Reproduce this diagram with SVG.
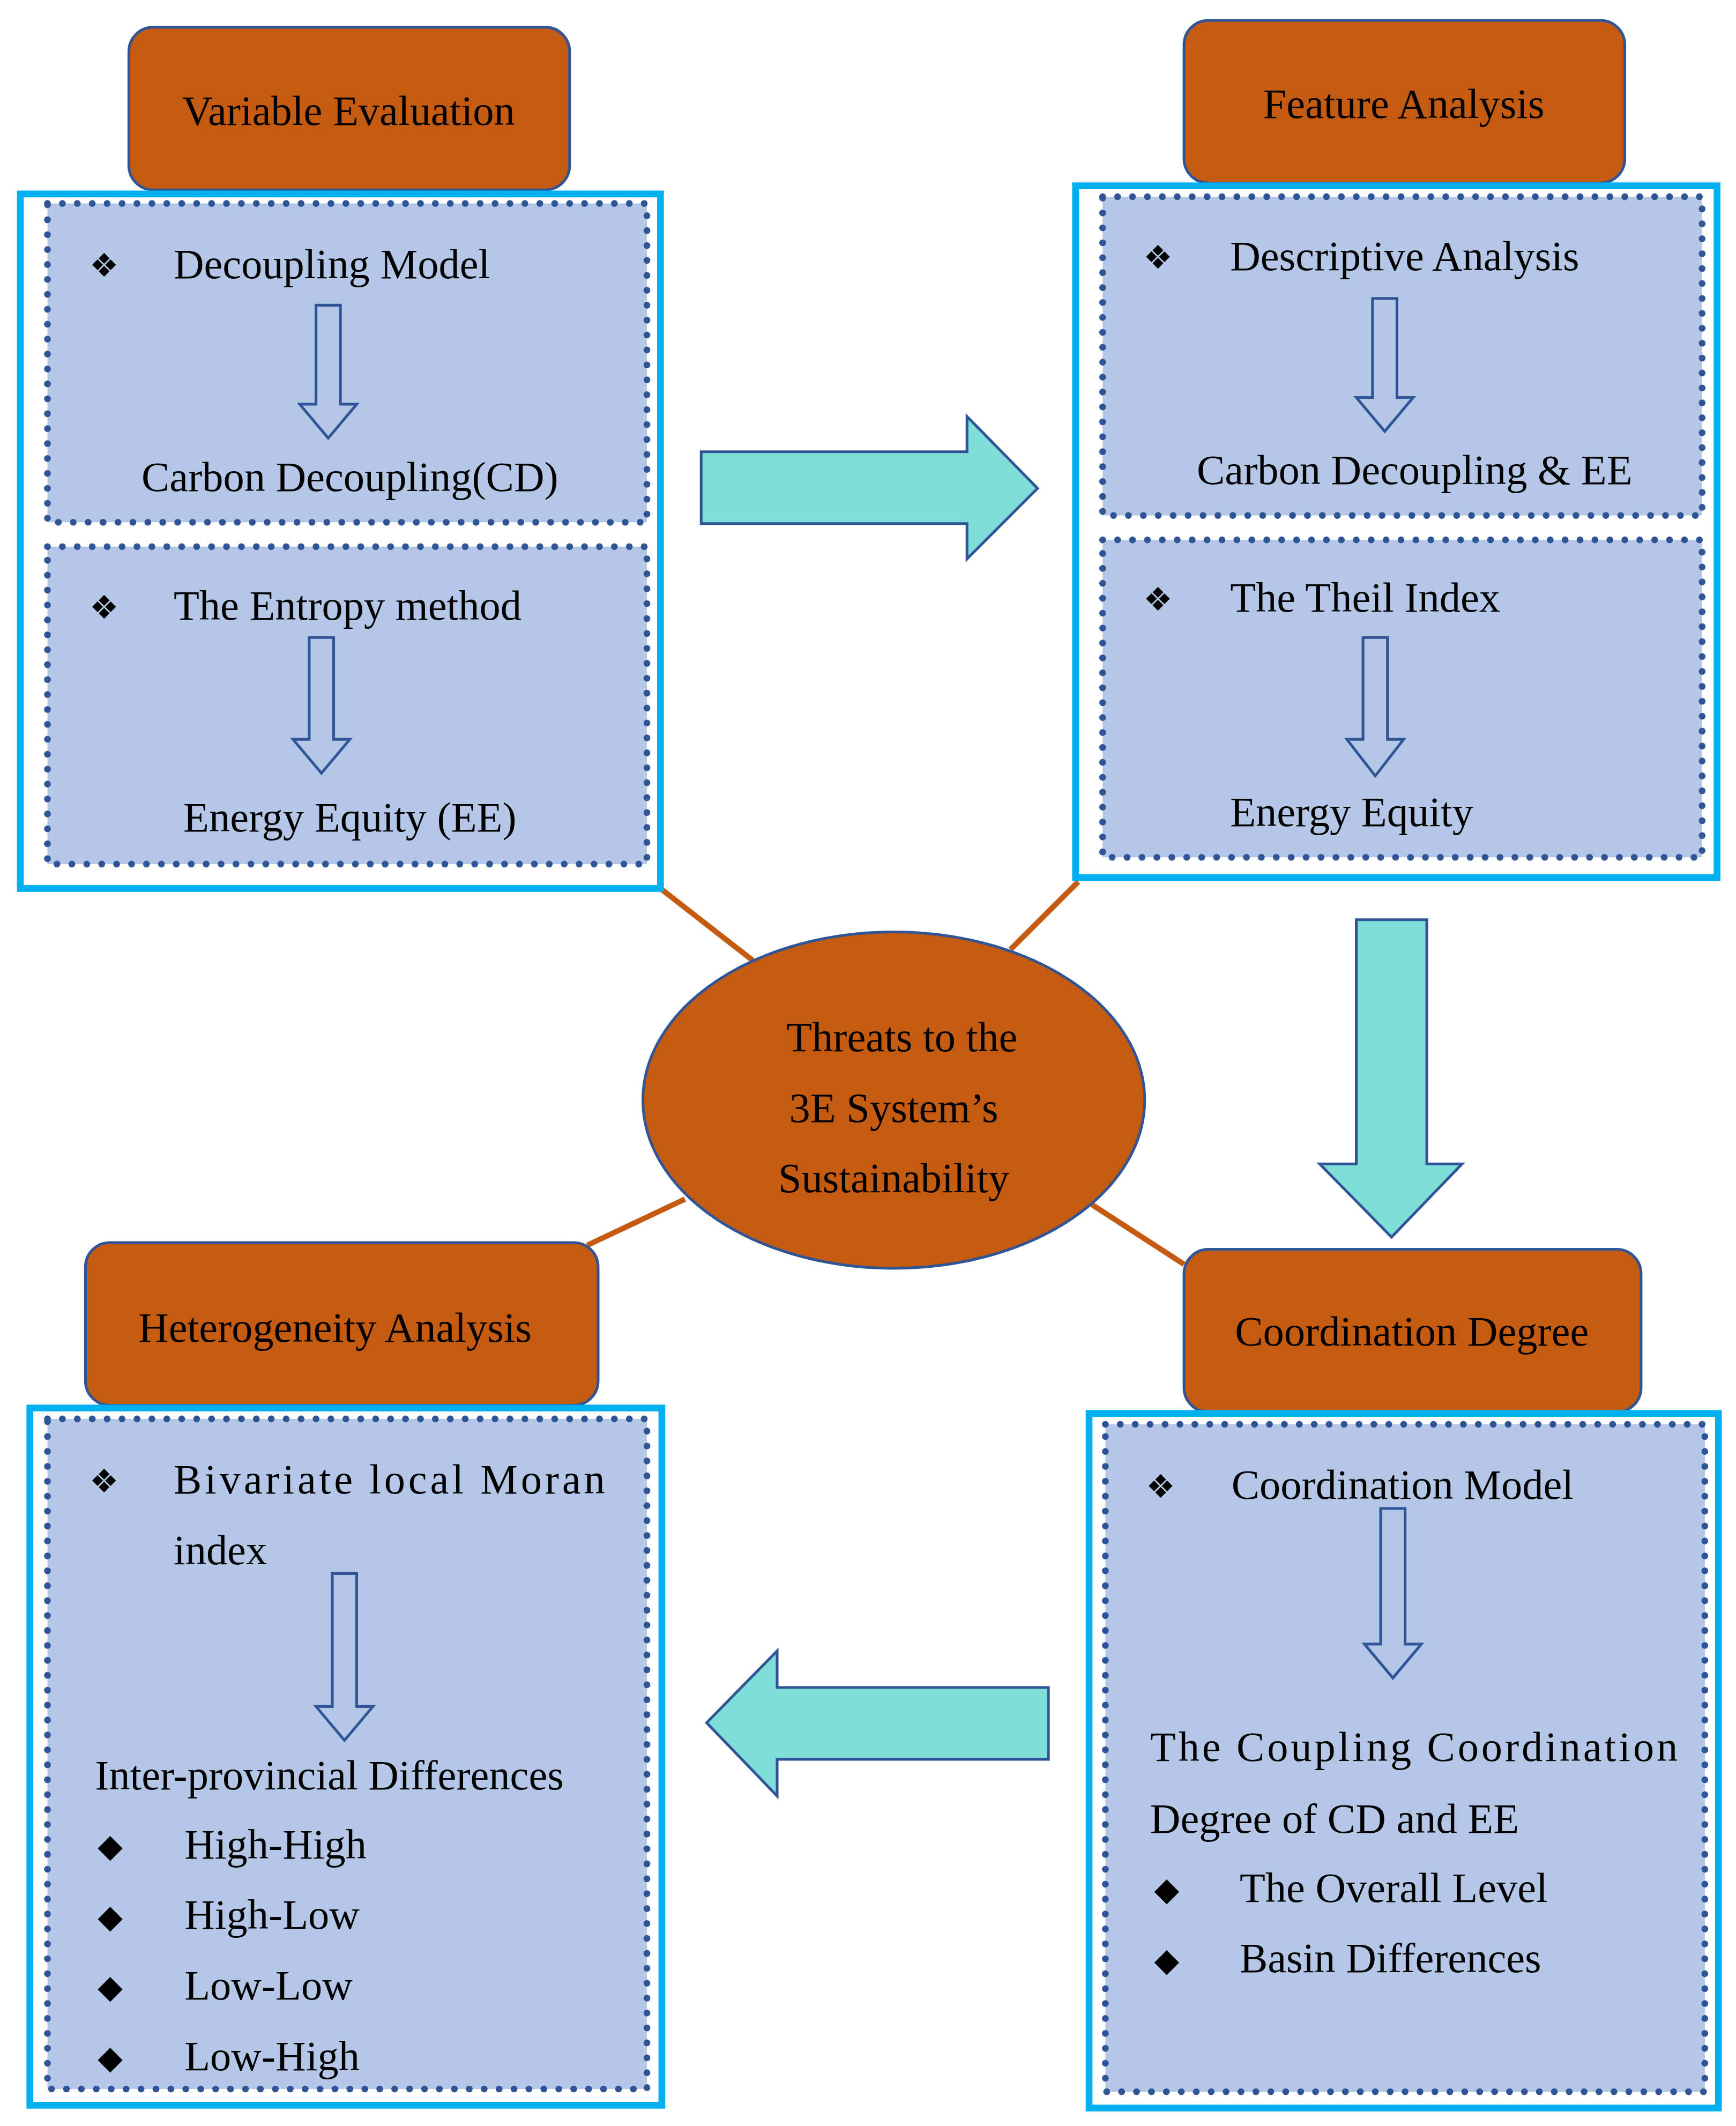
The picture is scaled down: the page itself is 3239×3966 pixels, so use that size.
<svg xmlns="http://www.w3.org/2000/svg" width="3239" height="3966" viewBox="0 0 3239 3966">
<style>
.hdr{fill:#C55A11;stroke:#2F5597;stroke-width:2}
.outer{fill:#fff;stroke:#00B0F0;stroke-width:5}
.inner{fill:#B4C7E7;stroke:#2F5597;stroke-width:5;stroke-dasharray:0 11;stroke-linecap:round}
.t{font-family:"Liberation Serif","Times New Roman",serif;font-size:31px;fill:#000}
.c{text-anchor:middle}
.b{font-family:"DejaVu Sans",sans-serif;font-size:24px;fill:#000}
.dn{fill:none;stroke:#2F5597;stroke-width:2}
.big{fill:#7FDFD8;stroke:#2F5597;stroke-width:2}
.con{stroke:#C55A11;stroke-width:4}
</style>
<rect width="3239" height="3966" fill="#fff"/>
<g transform="scale(2.5305)">
<g id="connectors">
<line class="con" x1="487" y1="655" x2="555" y2="708"/>
<line class="con" x1="795" y1="650" x2="745" y2="700"/>
<line class="con" x1="505" y1="884" x2="433" y2="918"/>
<line class="con" x1="805" y1="888" x2="873" y2="932"/>
<path class="big" d="M517,333 H713 V307 L765,360 L713,412 V386 H517 Z"/>
<path class="big" d="M1000,678 H1052 V858 H1078 L1026,912 L973,858 H1000 Z"/>
<path class="big" d="M773,1244 H573 V1217 L521,1270 L573,1324 V1297 H773 Z"/>
</g>
<g id="center">
<ellipse cx="659" cy="811" rx="185" ry="124" class="hdr"/>
<text class="t c" x="665" y="775">Threats to the</text>
<text class="t c" x="659" y="827">3E System’s</text>
<text class="t c" x="659" y="879">Sustainability</text>
</g>
<g id="variable-evaluation">
<rect class="hdr" x="95" y="20" width="325" height="120" rx="18"/>
<text class="t c" x="257" y="92">Variable Evaluation</text>
<rect class="outer" x="15" y="143" width="472" height="512"/>
<rect class="inner" x="35" y="150" width="442" height="235"/>
<text class="b" x="66" y="204">❖</text>
<text class="t" x="128" y="205">Decoupling Model</text>
<path class="dn" d="M233,225 H251 V298 H263 L242,323 L221,298 H233 Z"/>
<text class="t c" x="258" y="362">Carbon Decoupling(CD)</text>
<rect class="inner" x="35" y="403" width="442" height="234"/>
<text class="b" x="66" y="456">❖</text>
<text class="t" x="128" y="457">The Entropy method</text>
<path class="dn" d="M228,470 H246 V545 H258 L237,570 L216,545 H228 Z"/>
<text class="t c" x="258" y="613">Energy Equity (EE)</text>
</g>
<g id="feature-analysis">
<rect class="hdr" x="873" y="15" width="325" height="120" rx="18"/>
<text class="t c" x="1035" y="87">Feature Analysis</text>
<rect class="outer" x="793" y="137" width="473" height="510"/>
<rect class="inner" x="813" y="145" width="442" height="235"/>
<text class="b" x="843" y="198">❖</text>
<text class="t" x="907" y="199">Descriptive Analysis</text>
<path class="dn" d="M1012,220 H1030 V293 H1042 L1021,318 L1000,293 H1012 Z"/>
<text class="t c" x="1043" y="357">Carbon Decoupling &amp; EE</text>
<rect class="inner" x="813" y="398" width="442" height="234"/>
<text class="b" x="843" y="450">❖</text>
<text class="t" x="907" y="451">The Theil Index</text>
<path class="dn" d="M1005,470 H1023 V545 H1035 L1014,572 L993,545 H1005 Z"/>
<text class="t" x="907" y="609">Energy Equity</text>
</g>
<g id="heterogeneity-analysis">
<rect class="hdr" x="63" y="916" width="378" height="120" rx="18"/>
<text class="t c" x="247" y="989">Heterogeneity Analysis</text>
<rect class="outer" x="22" y="1038" width="466" height="514"/>
<rect class="inner" x="35" y="1046" width="442" height="494"/>
<text class="b" x="66" y="1100">❖</text>
<text class="t" x="128" y="1101" textLength="318" lengthAdjust="spacing">Bivariate local Moran</text>
<text class="t" x="128" y="1153">index</text>
<path class="dn" d="M245,1160 H263 V1258 H275 L254,1283 L233,1258 H245 Z"/>
<text class="t" x="70" y="1319">Inter-provincial Differences</text>
<text class="b" x="72" y="1369">◆</text><text class="t" x="136" y="1370">High-High</text>
<text class="b" x="72" y="1421">◆</text><text class="t" x="136" y="1422">High-Low</text>
<text class="b" x="72" y="1473">◆</text><text class="t" x="136" y="1474">Low-Low</text>
<text class="b" x="72" y="1525">◆</text><text class="t" x="136" y="1526">Low-High</text>
</g>
<g id="coordination-degree">
<rect class="hdr" x="873" y="921" width="337" height="120" rx="18"/>
<text class="t c" x="1041" y="992">Coordination Degree</text>
<rect class="outer" x="803" y="1042" width="464" height="512"/>
<rect class="inner" x="815" y="1050" width="442" height="492"/>
<text class="b" x="845" y="1104">❖</text>
<text class="t" x="908" y="1105">Coordination Model</text>
<path class="dn" d="M1018,1112 H1036 V1212 H1048 L1027,1237 L1006,1212 H1018 Z"/>
<text class="t" x="848" y="1298" textLength="389" lengthAdjust="spacing">The Coupling Coordination</text>
<text class="t" x="848" y="1351">Degree of CD and EE</text>
<text class="b" x="851" y="1401">◆</text><text class="t" x="914" y="1402">The Overall Level</text>
<text class="b" x="851" y="1453">◆</text><text class="t" x="914" y="1454">Basin Differences</text>
</g>
</g>
</svg>
